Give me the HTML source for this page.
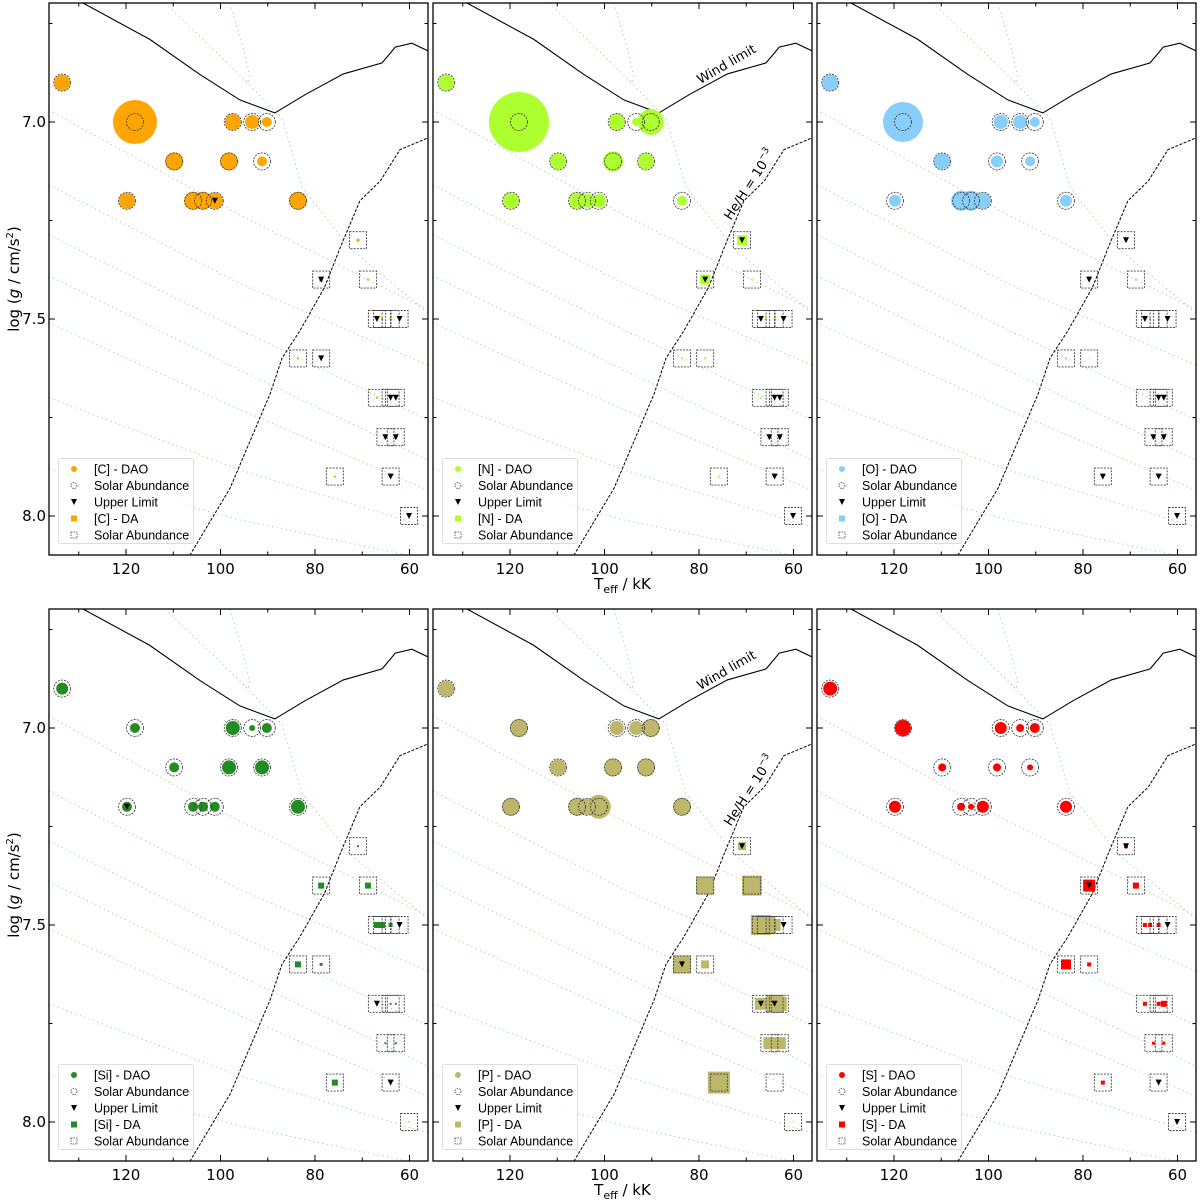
<!DOCTYPE html>
<html><head><meta charset="utf-8">
<style>
html,body{margin:0;padding:0;background:#fff;}
svg{display:block;font-family:"DejaVu Sans","Liberation Sans",sans-serif;}
</style></head>
<body>
<svg id="fig" width="1200" height="1202" viewBox="0 0 1200 1202" xmlns="http://www.w3.org/2000/svg"></svg>
<script>
// ---- data ----
const daoTeff = [133.5,118.1,97.4,93.3,90.2,109.8,98.2,91.2,119.8,105.8,103.7,101.2,83.6];
const daoLogg = [6.9,7.0,7.0,7.0,7.0,7.1,7.1,7.1,7.2,7.2,7.2,7.2,7.2];
const daTeff = [70.9,78.7,68.8,66.9,65.8,64.0,62.1,83.6,78.7,66.9,64.0,62.9,65.1,62.9,75.8,64.0,60.1];
const daLogg = [7.3,7.4,7.4,7.5,7.5,7.5,7.5,7.6,7.6,7.7,7.7,7.7,7.8,7.8,7.9,7.9,8.0];
const elements = ["C","N","O","Si","P","S"];
const colors = ["#ffa500","#adff2f","#87cefa","#228b22","#bdb76b","#ff0000"];
// marker radii (px) per element
const daoC = [8,22,8,7,5,9,9,5,8,9,9,8,9];
const daoN = [8,30,8,4,13,8,10,8,8,8,7,7,5];
const daoO = [8,20,7,7,5,8,6,5,6,10,10,8,6];
const daoSi = [6,5,7,3,5,5,7,7,5,5,5,5,7];
const daoP = [8,9,7,7,9,8,9,9,9,9,8,12,9];
const daoS = [7,8,6,4,5,4,4,3,6,4,3,6,6];
const daoUL = {C:[11], N:[], O:[], Si:[8], P:[], S:[]};
// DA square half-sizes
const daC = [1.5,2,1,0,1,1,0,1,0,1,0,0,0,0,1,0,0];
const daN = [5,5,1,0,1,1,0,1,1,1,0,0,0,0,1,0,0];
const daO = [0,0,1,0,1,1,0,1,0.5,0.5,0,0,0,0,0,0,0];
const daSi = [1,3,3,3,3,2,0,3,1.5,0,1,1,1,1,3,0,0.5];
const daP = [4,9,10,10,8,6,1,9,4,6,8,7,6,6,11,0,0.5];
const daS = [2,6,3,2,2,2,0,5,2,2,2,3,1.5,1.5,2,0,0];
const daUL = {C:[1,3,6,8,10,11,12,13,15,16], N:[0,1,3,6,10,11,12,13,15,16], O:[0,1,3,6,10,11,12,13,14,15,16],
  Si:[6,9,15], P:[0,6,7,9,10], S:[0,1,6,15,16]};
const daoSizes = [daoC,daoN,daoO,daoSi,daoP,daoS];
const daSizes = [daC,daN,daO,daSi,daP,daS];
// curves in (Teff, logg)
const windT = [129.1,115,104.3,95.9,88.5,82,74,65.8,63,59.5,56];
const windG = [6.698,6.79,6.88,6.944,6.977,6.93,6.878,6.85,6.81,6.80,6.82];
const heT = [106.5,98,89.5,87,83.2,78,74.7,70.5,66.2,62,56];
const heG = [8.1,7.93,7.69,7.6,7.53,7.42,7.32,7.2,7.15,7.07,7.04];
const tracks = [
 [[111.7,6.698],[95.9,6.881],[87.0,6.99],[85.3,7.058],[82.8,7.165],[72.8,7.317],[56.1,7.485]],
 [[136.3,6.97],[95.9,7.236],[56.1,7.477]],
 [[136.3,7.16],[95.9,7.41],[56.1,7.617]],
 [[136.3,7.287],[95.9,7.528],[56.1,7.756]],
 [[136.3,7.39],[95.9,7.63],[56.1,7.858]],
 [[136.3,7.51],[95.9,7.73],[56.1,7.934]],
 [[136.3,7.70],[95.9,7.883],[56.1,8.028]],
 [[136.3,7.88],[95.9,8.01],[56.1,8.11]],
 [[98.0,6.698],[94.8,6.83],[93.8,6.886],[94.2,6.901],[95.2,6.888]]
];
const xTicks = [120,100,80,60];
const yTicks = [7.0,7.5,8.0];
const yTickLabels = ["7.0","7.5","8.0"];

// ---- geometry ----
const NS="http://www.w3.org/2000/svg";
const svg=document.getElementById('fig');
const colX=[49,433,817], rowY=[3,609], PW=379, PH=552;
function mk(tag,attrs,parent){const e=document.createElementNS(NS,tag);for(const k in attrs)e.setAttribute(k,attrs[k]);(parent||svg).appendChild(e);return e;}
function X(px0,T){return px0+77+(120-T)*4.725;}
function Y(py0,g){return py0+119+(g-7.0)*394;}

for(let p=0;p<6;p++){
  const c=p%3, r=Math.floor(p/3), x0=colX[c], y0=rowY[r];
  const el=elements[p], col=colors[p];
  const g=mk('g',{});
  
  
  const cp='clip'+p;
  const cl=mk('clipPath',{id:cp},g); mk('rect',{x:x0,y:y0,width:PW,height:PH},cl);
  const inner=mk('g',{'clip-path':'url(#'+cp+')'},g);
  tracks.forEach((t,i)=>{
    const pl=mk('polyline',{points:t.map(q=>X(x0,q[0])+','+Y(y0,q[1])).join(' '),fill:'none',stroke:'#8fd88f','stroke-width':1,'stroke-dasharray':'1.2,3.5'},inner);
    
    
  });
  const w=mk('polyline',{points:windT.map((t,i)=>X(x0,t)+','+Y(y0,windG[i])).join(' '),fill:'none',stroke:'#000','stroke-width':1.1},inner);
  
  
  const h=mk('polyline',{points:heT.map((t,i)=>X(x0,t)+','+Y(y0,heG[i])).join(' '),fill:'none',stroke:'#000','stroke-width':1,'stroke-dasharray':'3,1.5'},inner);
  
  
  const ds=daoSizes[p];
  daoTeff.forEach((t,i)=>{
    const cx=X(x0,t), cy=Y(y0,daoLogg[i]);
    const m=mk('circle',{cx:cx,cy:cy,r:ds[i],fill:col},inner);
    
    
  });
  daoTeff.forEach((t,i)=>{
    const cx=X(x0,t), cy=Y(y0,daoLogg[i]);
    const s=mk('circle',{cx:cx,cy:cy,r:8.5,fill:'none',stroke:'#444','stroke-width':0.9,'stroke-dasharray':'2,1.2'},inner);
    
    
    if(daoUL[el].includes(i)){
      const tr=mk('polygon',{points:`${cx-3},${cy-3} ${cx+3},${cy-3} ${cx},${cy+3}`,fill:'#000'},inner);
      
      
    }
  });
  const das=daSizes[p];
  daTeff.forEach((t,i)=>{
    const cx=X(x0,t), cy=Y(y0,daLogg[i]), s=das[i];
    if(s>0){const m=mk('rect',{x:cx-s,y:cy-s,width:2*s,height:2*s,fill:col},inner);
      
      }
  });
  daTeff.forEach((t,i)=>{
    const cx=X(x0,t), cy=Y(y0,daLogg[i]);
    const b=mk('rect',{x:cx-8.5,y:cy-8.5,width:17,height:17,fill:'none',stroke:'#444','stroke-width':0.9,'stroke-dasharray':'2,1.2'},inner);
    
    
    if(daUL[el].includes(i)){
      const tr=mk('polygon',{points:`${cx-3},${cy-3} ${cx+3},${cy-3} ${cx},${cy+3}`,fill:'#000'},inner);
      
      
    }
  });
  if(c===1){
    const wt=mk('text',{x:X(x0,74.1),y:Y(y0,6.855),'font-size':13,'text-anchor':'middle','dominant-baseline':'middle',transform:`rotate(-30 ${X(x0,74.1)} ${Y(y0,6.855)})`},g);
    wt.textContent='Wind limit';
    
    
    const hx=X(x0,69.2), hy=Y(y0,7.16);
    const ht=mk('text',{x:hx,y:hy,'font-size':13,'text-anchor':'middle','dominant-baseline':'middle',transform:`rotate(-57 ${hx} ${hy})`},g);
    ht.innerHTML='He/H = 10<tspan dy="-6" font-size="9">−3</tspan>';
    
    
  }
  const fr=mk('rect',{x:x0,y:y0,width:PW,height:PH,fill:'none',stroke:'#000','stroke-width':1.3},g);
  
  
  for(let T=130;T>=60;T-=10){
    const xx=X(x0,T), L=(T%20===0)?6:3.5;
    mk('line',{x1:xx,y1:y0+PH,x2:xx,y2:y0+PH-L,stroke:'#000','stroke-width':1},g);
    mk('line',{x1:xx,y1:y0,x2:xx,y2:y0+L,stroke:'#000','stroke-width':1},g);
  }
  for(let gg=6.75;gg<=8.05;gg+=0.25){
    const yy=Y(y0,gg), L=(Math.abs(gg*2-Math.round(gg*2))<1e-6)?6:3.5;
    mk('line',{x1:x0,y1:yy,x2:x0+L,y2:yy,stroke:'#000','stroke-width':1},g);
    mk('line',{x1:x0+PW,y1:yy,x2:x0+PW-L,y2:yy,stroke:'#000','stroke-width':1},g);
  }
  xTicks.forEach(T=>{
    const t=mk('text',{x:X(x0,T),y:y0+PH+19,'font-size':15,'text-anchor':'middle'},g);
    t.textContent=T;
    
    
  });
  if(c===0){
    yTicks.forEach((v,i)=>{
      const t=mk('text',{x:x0-3,y:Y(y0,v)+5,'font-size':15,'text-anchor':'end'},g);
      t.textContent=yTickLabels[i];
      
      
    });
    const yl=mk('text',{x:19,y:y0+276,'font-size':15,'text-anchor':'middle',transform:`rotate(-90 19 ${y0+276})`},g);
    yl.innerHTML='log (<tspan font-style="italic">g</tspan> / cm/s<tspan dy="-6" font-size="10">2</tspan><tspan dy="6">)</tspan>';
    
    
  }
  if(c===1){
    const xl=mk('text',{x:x0+PW/2,y:y0+PH+34,'font-size':15,'text-anchor':'middle'},g);
    xl.innerHTML='T<tspan dy="4" font-size="11">eff</tspan><tspan dy="-4"> / kK</tspan>';
    
    
  }
  const lg=mk('g',{},g);
  
  
  mk('rect',{x:x0+9.5,y:y0+455.5,width:135,height:85,rx:2,fill:'#fff','fill-opacity':0.8,stroke:'#ddd','stroke-width':1},lg);
  const labels=['['+el+'] - DAO','Solar Abundance','Upper Limit','['+el+'] - DA','Solar Abundance'];
  labels.forEach((lab,i)=>{
    const ly=y0+466+i*16.5, mx=x0+25;
    if(i===0) mk('circle',{cx:mx,cy:ly,r:3,fill:col},lg);
    if(i===1) mk('circle',{cx:mx,cy:ly,r:3,fill:'none',stroke:'#444','stroke-width':0.8,'stroke-dasharray':'1.5,1'},lg);
    if(i===2) mk('polygon',{points:`${mx-3},${ly-3} ${mx+3},${ly-3} ${mx},${ly+3}`,fill:'#000'},lg);
    if(i===3) mk('rect',{x:mx-3,y:ly-3,width:6,height:6,fill:col},lg);
    if(i===4) mk('rect',{x:mx-3,y:ly-3,width:6,height:6,fill:'none',stroke:'#444','stroke-width':0.8,'stroke-dasharray':'1.5,1'},lg);
    const t=mk('text',{x:x0+45,y:ly+4.5,'font-size':12.5,'font-family':'Liberation Sans, sans-serif'},lg);
    t.textContent=lab;
    
    
  });
}
</script>
</body></html>
